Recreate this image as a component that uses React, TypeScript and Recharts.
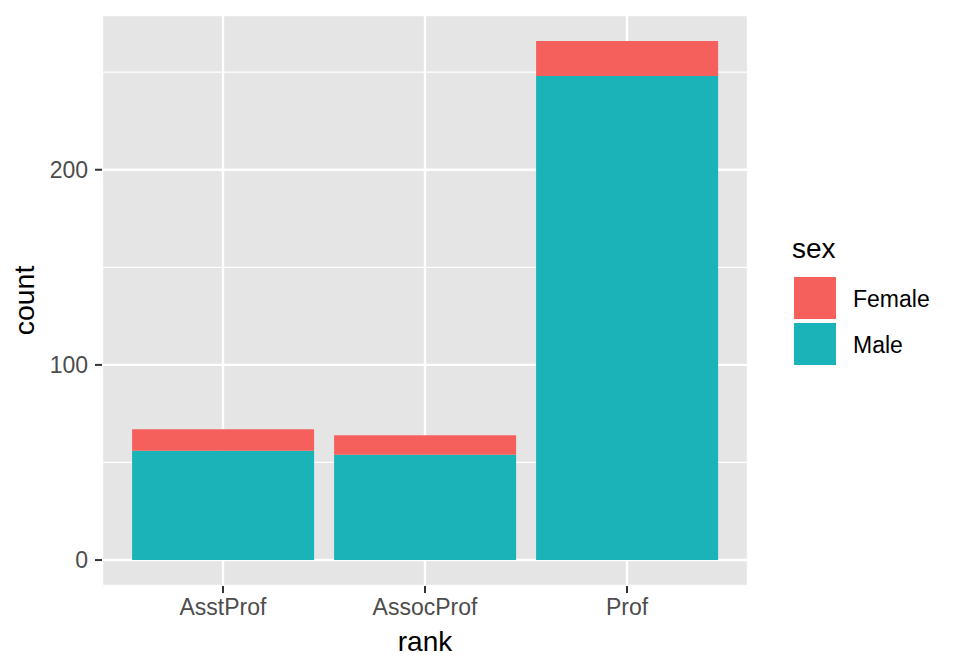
import { Bar, BarChart, CartesianGrid, Label, Legend, XAxis, YAxis } from "recharts";

const RANKS = ["AsstProf", "AssocProf", "Prof"] as const;
const MALE = [56, 54, 248];
const FEMALE = [11, 10, 18];
const Y_TICKS = [0, 100, 200];
const Y_MINOR = [50, 150, 250];

const SERIES = [
  { key: "Female", label: "Female", color: "#F5605C" },
  { key: "Male", label: "Male", color: "#19B3B8" },
] as const;

const FONT = '"Liberation Sans", Arial, Helvetica, sans-serif';

const data = RANKS.map((rank, i) => ({ rank, Male: MALE[i], Female: FEMALE[i] }));

const femaleColor = SERIES[0].color;
const maleColor = SERIES[1].color;

function SexLegend() {
  return (
    <svg width={212} height={672} style={{ display: "block" }}>
      <text x={44} y={258} fontSize={28} fill="#000" fontFamily={FONT}>
        sex
      </text>
      {SERIES.map((s, i) => (
        <g key={s.key}>
          <rect x={46} y={277 + i * 46} width={42} height={42} fill={s.color} />
          <text x={105} y={307 + i * 46} fontSize={23} fill="#000" fontFamily={FONT}>
            {s.label}
          </text>
        </g>
      ))}
    </svg>
  );
}

export default function App() {
  return (
    <div style={{ position: "absolute", left: 0, top: 0, width: 960, height: 672, background: "#fff" }}>
      <BarChart
        width={960}
        height={672}
        data={data}
        margin={{ top: 15, right: 0, bottom: 0, left: 0 }}
        barCategoryGap="5%"
        style={{ fontFamily: FONT }}
      >
        <CartesianGrid
          fill="#E5E5E5"
          stroke="#fff"
          strokeWidth={1.2}
          vertical={false}
          horizontalValues={Y_MINOR}
        />
        <CartesianGrid stroke="#fff" strokeWidth={2.4} />
        <XAxis
          dataKey="rank"
          type="category"
          height={86}
          padding={{ left: 20, right: 20 }}
          axisLine={false}
          tickLine={{ stroke: "#333", strokeWidth: 2 }}
          tickSize={7}
          tickMargin={6}
          tick={{ fill: "#4D4D4D", fontSize: 23 }}
        >
          <Label
            content={({ viewBox }: any) => (
              <text
                x={viewBox.x + viewBox.width / 2}
                y={viewBox.y + 65}
                textAnchor="middle"
                fontSize={28}
                fill="#000"
                fontFamily={FONT}
              >
                rank
              </text>
            )}
          />
        </XAxis>
        <YAxis
          type="number"
          width={102}
          domain={[-13.3, 279.3]}
          allowDataOverflow
          ticks={Y_TICKS}
          axisLine={false}
          tickLine={{ stroke: "#333", strokeWidth: 2 }}
          tickSize={7}
          tickMargin={7}
          tick={{ fill: "#4D4D4D", fontSize: 23 }}
        >
          <Label
            content={({ viewBox }: any) => {
              const cy = viewBox.y + viewBox.height / 2;
              return (
                <text
                  x={34}
                  y={cy}
                  transform={`rotate(-90, 34, ${cy})`}
                  textAnchor="middle"
                  fontSize={28.5}
                  fill="#000"
                  fontFamily={FONT}
                >
                  count
                </text>
              );
            }}
          />
        </YAxis>
        <Legend
          layout="vertical"
          align="right"
          verticalAlign="middle"
          wrapperStyle={{ top: 0, right: 0, width: 212, height: 672 }}
          content={() => <SexLegend />}
        />
        <Bar dataKey="Male" stackId="sex" fill={maleColor} isAnimationActive={false} />
        <Bar dataKey="Female" stackId="sex" fill={femaleColor} isAnimationActive={false} />
      </BarChart>
    </div>
  );
}
